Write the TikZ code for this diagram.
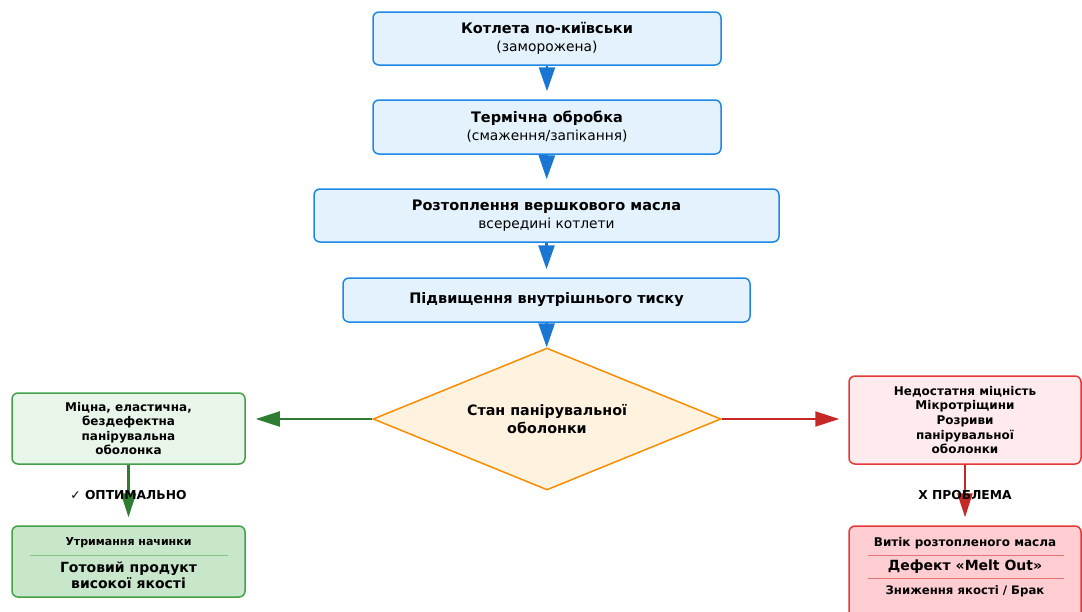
\documentclass[tikz,border=0pt]{standalone}
\usepackage{fontspec}
\setmainfont{DejaVu Sans}
\usetikzlibrary{arrows.meta,shapes.geometric}
\definecolor{stepfill}{HTML}{E3F2FD}
\definecolor{stepline}{HTML}{1E88E5}
\definecolor{flowblue}{HTML}{1976D2}
\definecolor{decfill}{HTML}{FFF3E0}
\definecolor{decline}{HTML}{FB8C00}
\definecolor{goodfill}{HTML}{E8F5E9}
\definecolor{goodline}{HTML}{43A047}
\definecolor{goodarrow}{HTML}{2E7D32}
\definecolor{goodres}{HTML}{C8E6C9}
\definecolor{goodsep}{HTML}{81C784}
\definecolor{badfill}{HTML}{FFEBEE}
\definecolor{badline}{HTML}{E53935}
\definecolor{badarrow}{HTML}{C62828}
\definecolor{badres}{HTML}{FFCDD2}
\definecolor{badsep}{HTML}{E57373}
\newcommand{\sub}[1]{{\fontsize{13.8}{18}\selectfont\mdseries #1}}
\begin{document}
\begin{tikzpicture}[x=1pt,y=-1pt,
  stepbox/.style={draw=stepline,fill=stepfill,line width=1.5pt,rounded corners=6pt,align=center,inner sep=0pt,font=\fontsize{14.5}{18}\selectfont\bfseries},
  decbox/.style={diamond,aspect=2.45,draw=decline,fill=decfill,line width=1.5pt,align=center,inner sep=0pt,minimum width=348pt,minimum height=142pt,font=\fontsize{14.3}{18}\selectfont\bfseries},
  goodbox/.style={draw=goodline,fill=goodfill,line width=1.5pt,rounded corners=6pt,align=center,inner sep=0pt,minimum width=233pt,font=\fontsize{12}{14.5}\selectfont\bfseries},
  badbox/.style={draw=badline,fill=badfill,line width=1.5pt,rounded corners=6pt,align=center,inner sep=0pt,minimum width=232pt,font=\fontsize{12}{14.6}\selectfont\bfseries},
  restext/.style={align=center,inner sep=0pt,font=\fontsize{11}{14}\selectfont\bfseries},
  resmain/.style={align=center,inner sep=0pt,font=\fontsize{14}{16}\selectfont\bfseries},
  flowtag/.style={font=\fontsize{12.3}{14}\selectfont\bfseries},
  flow/.style={draw=flowblue,line width=2.5pt,-{Triangle[length=24pt,width=16pt]}},
  okflow/.style={draw=goodarrow,line width=2.5pt,-{Triangle[length=24pt,width=15pt]}},
  badflow/.style={draw=badarrow,line width=2.5pt,-{Triangle[length=24pt,width=15pt]}}]
\useasboundingbox (0,0) rectangle (1082,611);
\node[stepbox,minimum width=348pt,minimum height=53pt] (raw) at (547,38.5) {Котлета по-київськи\\\sub{(заморожена)}};
\node[stepbox,minimum width=348pt,minimum height=54pt] (heat) at (547,127) {Термічна обробка\\\sub{(смаження/запікання)}};
\node[stepbox,minimum width=465pt,minimum height=53pt] (melt) at (546.5,215.5) {Розтоплення вершкового масла\\\sub{всередині котлети}};
\node[stepbox,minimum width=407pt,minimum height=44pt] (press) at (546.5,300) {Підвищення внутрішнього тиску};
\node[decbox] (crust) at (547,419) {Стан панірувальної\\оболонки};
\node[goodbox,minimum height=71pt] (strong) at (128.5,428.5) {Міцна, еластична,\\бездефектна\\панірувальна\\оболонка};
\node[badbox,minimum height=88pt] (weak) at (965,420) {Недостатня міцність\\Мікротріщини\\Розриви\\панірувальної\\оболонки};
\node[goodbox,fill=goodres,minimum height=71pt] (hold) at (128.5,561.5) {};
\node[badbox,fill=badres,minimum height=100pt] (leak) at (965,576) {};
\node[restext] (holdtop) at (128.5,543) {Утримання начинки};
\node[resmain] (holdmain) at (128.5,575) {Готовий продукт\\високої якості};
\node[restext,font=\fontsize{12}{14}\selectfont\bfseries] (leaktop) at (965,543) {Витік розтопленого масла};
\node[resmain] (leakmain) at (965,566.5) {Дефект «Melt Out»};
\node[restext,font=\fontsize{11.7}{14}\selectfont\bfseries] (leakbot) at (965,591) {Зниження якості / Брак};
\draw[goodsep,line width=1pt] (30,555) -- (228,555);
\draw[badsep,line width=1pt] (868,555) -- (1064,555);
\draw[badsep,line width=1pt] (868,578) -- (1064,578);
\draw[flow,shorten >=8pt] (raw) -- (heat);
\draw[flow,shorten >=9pt] (heat) -- (melt);
\draw[flow,shorten >=8pt] (melt) -- (press);
\draw[flow] (press) -- (crust);
\draw[okflow,line width=2pt,shorten >=10pt] (crust.west) -- (crust.west-|strong.east);
\draw[badflow,line width=2pt,shorten >=9pt] (crust.east) -- (crust.east-|weak.west);
\draw[okflow,shorten >=8pt] (strong) -- node[midway,flowtag] (oklabel) {✓ ОПТИМАЛЬНО} (hold);
\draw[badflow,shorten >=8pt] (weak.south) -- node[midway,flowtag] (badlabel) {Х ПРОБЛЕМА} (weak.south|-leak.north);
\end{tikzpicture}
\end{document}
